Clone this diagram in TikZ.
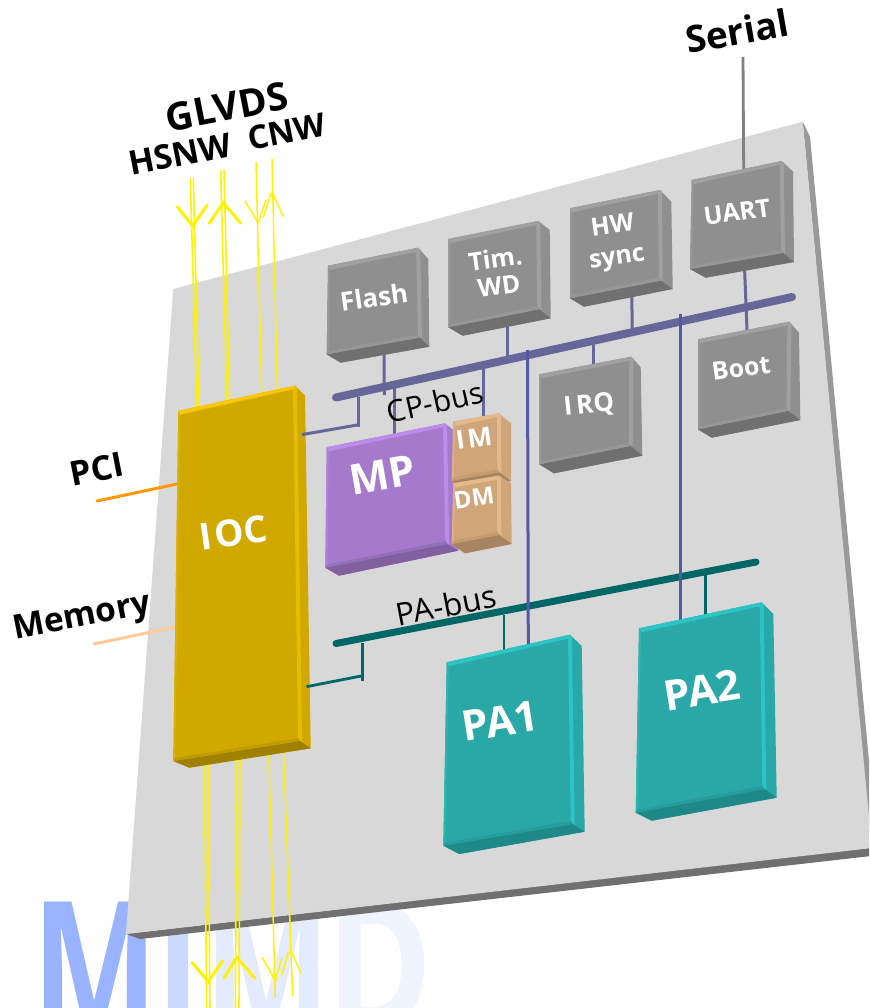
\documentclass[tikz,border=0pt]{standalone}
\usepackage{fontspec}
\setmainfont{Open Sans}[BoldFont={Open Sans Bold}]
\usetikzlibrary{calc}
\definecolor{gfa}{HTML}{8F8F8F}\definecolor{gli}{HTML}{A0A0A0}\definecolor{gbo}{HTML}{979797}\definecolor{gda}{HTML}{707070}
\definecolor{ofa}{HTML}{D0A800}\definecolor{oli}{HTML}{E8BC00}\definecolor{obo}{HTML}{C09C00}\definecolor{oda}{HTML}{A08000}
\definecolor{pfa}{HTML}{A57ACC}\definecolor{pli}{HTML}{BB8CE8}\definecolor{pbo}{HTML}{9470B8}\definecolor{pda}{HTML}{825F9E}
\definecolor{tfa}{HTML}{CFA67A}\definecolor{tli}{HTML}{E6B98C}\definecolor{tbo}{HTML}{C49C70}\definecolor{tda}{HTML}{A68560}
\definecolor{cfa}{HTML}{2AA8A8}\definecolor{cli}{HTML}{2CC4C4}\definecolor{cbo}{HTML}{279C9C}\definecolor{cda}{HTML}{1F8888}
\definecolor{cpbus}{HTML}{666699}\definecolor{pabus}{HTML}{006666}\definecolor{plate}{HTML}{D8D8D8}
\newcommand{\fsz}[1]{\fontsize{#1}{#1}\selectfont}
% name, colour family, tl, tr, side-top, side-bottom, br, bottom-front, bl
\newcommand{\block}[9]{%
 \coordinate (#1-tl) at #3; \coordinate (#1-tr) at #4; \coordinate (#1-st) at #5; \coordinate (#1-sb) at #6;
 \coordinate (#1-br) at #7; \coordinate (#1-bf) at #8; \coordinate (#1-bl) at #9;
 \fill[#2fa] (#1-tl)--(#1-tr)--(#1-st)--(#1-sb)--(#1-bf)--(#1-bl)--cycle;
 \fill[#2da] (#1-bl)--(#1-br)--(#1-sb)--(#1-bf)--cycle;
 \fill[#2li] (#1-tl)--(#1-tr)--($(#1-tr)+(-2,4)$)--($(#1-tl)+(2,4)$)--cycle;
 \fill[#2li] (#1-tr)--($(#1-tr)+(2,2)$)--($(#1-br)+(2,1)$)--($(#1-br)+(-2,-3)$)--($(#1-tr)+(-2,4)$)--cycle;
 \fill[#2li!50!#2fa] (#1-tl)--($(#1-tl)+(2,4)$)--($(#1-bl)+(2,-3)$)--(#1-bl)--cycle;
 \fill[#2bo] (#1-bl)--($(#1-bl)+(2,-3)$)--($(#1-br)+(-2,-3)$)--(#1-br)--cycle;
}
\tikzset{
 bus/.style={line width=#1,line cap=round},
 cp/.style={draw=cpbus,line width=3pt},
 pa/.style={draw=pabus,line width=2.8pt},
 ydbl/.style={draw=yellow,line width=1.6pt},
 yhead/.style={draw=yellow,line width=3pt,line cap=round},
 ythin/.style={draw=yellow,line width=1.5pt},
 lab/.style={inner sep=0pt,text=black},
 wlab/.style={inner sep=0pt,text=white,align=center},
 buslab/.style={inner sep=0pt,text=black},
 bigl/.style={inner sep=0pt,anchor=base west,font=\bfseries\fsz{180},xscale=.74},
}
\begin{document}
\begin{tikzpicture}[x=1pt,y=-1pt]
\path[use as bounding box] (0,0) rectangle (869,1008);
\clip (0,0) rectangle (869,1008);
\fill[white] (0,0) rectangle (869,1008);
% background lettering
\node[bigl,text={rgb,255:red,153;green,179;blue,255}] (mM1) at (32,1030) {M};
\node[bigl,text={rgb,255:red,204;green,217;blue,255}] (mI) at (156,1030) {I};
\node[bigl,text={rgb,255:red,229;green,235;blue,255}] (mM2) at (204,1030) {M};
\node[bigl,xscale=1.08,text={rgb,255:red,240;green,244;blue,255}] (mD) at (326,1030) {D};
% plate
\fill[gda] (126,934)--(140,939)--(880,855)--(880,846)--cycle;
\fill[gray!80] (802.7,121.7)--(810,136.7)--(878,856)--(872,856)--cycle;
\fill[plate] (173.3,289)--(802.7,121.7)--(872,848)--(126,934)--cycle;
% anchors of connectors
\coordinate (serialEnd) at (743,57);
\coordinate (pciEnd) at (97,501);
\coordinate (pciIoc) at (177,484);
\coordinate (memEnd) at (94,644);
\coordinate (memIoc) at (175,627);
\coordinate (cpL) at (336,397.5); \coordinate (cpR) at (792,297);
\coordinate (paL) at (336,643.5); \coordinate (paR) at (756,562);
\coordinate (pa2top) at (680,314); \coordinate (pa1top) at (527.5,350);
% thin connectors behind buses
\draw[cp] (744.3,262)--(747,330);
\draw[cp] (631.7,290)--(632.3,332);
\draw[cp] (593.3,345)--(593.3,365);
\draw[cp] (507.3,320)--(507.3,360);
\draw[cp] (384,350)--(384.3,395);
\draw[cp] (394,382)--(394,436);
\draw[cp] (483.3,368)--(483.3,420);
\draw[pa] (504,615)--(504,652);
\draw[pa] (705.3,575)--(705.3,618);
\draw[draw=gray,line width=2.8pt] (serialEnd)--(743.7,170);
% buses
\draw[draw=cpbus,bus=8pt] (cpL)--(cpR);
\draw[draw=pabus,bus=7pt] (paL)--(paR);
\draw[cp,draw=cpbus!85!blue] (pa2top)--(680,622);
\draw[cp,draw=cpbus!85!blue] (pa1top)--(528.3,646);
% IOC side lines
\draw[draw={rgb,255:red,255;green,153;blue,0},line width=3pt,line cap=round] (pciEnd)--(pciIoc);
\draw[draw={rgb,255:red,255;green,204;blue,153},line width=3pt,line cap=round] (memEnd)--(memIoc);
% yellow lines
\draw[ydbl] (190.3,178)--(196.7,408);
\draw[ydbl] (193.3,178)--(199.3,408);
\draw[ydbl] (220.7,170)--(226.7,402);
\draw[ydbl] (224,170)--(229.7,402);
\draw[ythin] (256,162)--(261.7,394);
\draw[ythin] (272,159)--(277.3,390);
\draw[yhead] (177.3,206.7)--(192.7,226)--(207.3,205);
\draw[yhead] (209.3,223.3)--(223.3,202.7)--(240.7,223.3);
\draw[ythin] (245,200.7)--(258,222.7)--(266,200);
\draw[ythin] (263,218)--(270.7,194)--(273,194)--(283.3,216.7);
\draw[ydbl] (204.3,760)--(206.7,1010);
\draw[ydbl] (208,760)--(210,1010);
\draw[ydbl] (236.7,752)--(235.3,1010);
\draw[ydbl] (240,752)--(239,1010);
\draw[ythin] (268.7,750)--(275.3,998.3);
\draw[ythin] (283.3,745)--(292.7,996);
\draw[yhead] (192,962.3)--(208.3,981.7)--(222.7,960.7);
\draw[yhead] (224,978.3)--(236.7,957.3)--(255,978.3);
\draw[ythin] (262.3,957.3)--(275.3,980.7)--(282,957.7);
\draw[ythin] (282,975)--(288.3,952.3)--(291.7,952.3)--(301,973.3);
% blocks
\block{flash}{g}{(328,265.7)}{(418.3,247.7)}{(428.3,259.3)}{(429.3,346.7)}{(420,337.7)}{(340.7,362.7)}{(326.7,354.3)}
\block{tim}{g}{(448.3,239)}{(538.3,221)}{(549.7,230)}{(550.7,318.3)}{(539.3,309.3)}{(462.7,335.7)}{(448.3,327.3)}
\block{hw}{g}{(570,208.3)}{(660,190)}{(671.3,201.7)}{(672.7,289)}{(660.7,280.7)}{(584,306.7)}{(570,298.3)}
\block{uart}{g}{(691.7,180)}{(781.7,161)}{(793,171.7)}{(794,262)}{(783,253)}{(705.7,277.7)}{(690,269)}
\block{irq}{g}{(539.3,374.3)}{(631.3,356.7)}{(640.7,367.3)}{(642.3,455.7)}{(630.7,446)}{(554,473.3)}{(539.3,464.3)}
\block{boot}{g}{(698,339.3)}{(789.3,321.7)}{(799,332.7)}{(800.3,420)}{(788.3,411)}{(711.7,437.7)}{(698,429.3)}
\block{mp}{p}{(326.7,447.3)}{(445,423.3)}{(453.3,430)}{(458.3,550.7)}{(447.3,544)}{(339,575.7)}{(325.3,567.7)}
\block{im}{t}{(453.3,421.7)}{(499,413.3)}{(511,423.3)}{(511,481)}{(499.3,472.3)}{(463,490)}{(451.7,480.7)}
\block{dm}{t}{(453.3,483.3)}{(499,475.7)}{(511,483.3)}{(511.7,544)}{(499.3,535)}{(465,553.3)}{(451.7,544)}
\block{ioc}{o}{(178.3,411)}{(295,385.7)}{(305,395.7)}{(310.7,748.3)}{(300,741)}{(189.3,767.7)}{(173.3,761)}
\fill[yellow!60!orange] (178.3,411)--(295,385.7)--(293,389)--(180,414)--cycle;
\block{pa1}{c}{(446.7,662.3)}{(570,634.7)}{(581.7,646)}{(584.7,831.7)}{(572.7,824)}{(459.3,854)}{(443.3,845.7)}
\block{pa2}{c}{(639,628.3)}{(761.7,602.3)}{(773.3,614)}{(776.7,797.7)}{(764.3,789)}{(651.7,820.7)}{(635.7,812.7)}
% stubs from the IOC to the buses
\draw[cp] (302,434.6)--(358.3,424.8);
\draw[cp] (358.3,427)--(358.3,397);
\draw[pa] (306.5,686.7)--(362.7,675.7);
\draw[pa] (362.7,680.5)--(362.7,643);
% labels
\node[lab,font=\bfseries\fsz{37},rotate=10] (serial) at (737,31) {Serial};
\node[lab,font=\bfseries\fsz{38.5},rotate=11] (glvds) at (227,107) {GLVDS};
\node[lab,font=\bfseries\fsz{33.5},rotate=11] (hsnw) at (180,154) {HSNW};
\node[lab,font=\bfseries\fsz{32.5},rotate=11] (cnw) at (287,132) {CNW};
\node[lab,font=\bfseries\fsz{34},rotate=11] (pci) at (97,469) {PCI};
\node[lab,font=\bfseries\fsz{33.5},rotate=11] (memory) at (82,618) {Memory};
\node[buslab,font=\fsz{30},rotate=13] (cpbus) at (435,402) {CP-bus};
\node[buslab,font=\fsz{31.5},rotate=11] (pabusl) at (446,605) {PA-bus};
\node[wlab,font=\bfseries\fsz{26},rotate=8] at (374,297) (flashT) {Flash};
\node[wlab,font=\bfseries\fsz{25},rotate=8] at (497,272) (timT) {Tim.\\[2pt]WD};
\node[wlab,font=\bfseries\fsz{25},rotate=8] at (615,243) (hwT) {HW\\[6pt]sync};
\node[wlab,font=\bfseries\fsz{25},rotate=8] at (737,212) (uartT) {UART};
\node[wlab,font=\bfseries\fsz{26},rotate=6] at (589,406) (irqT) {I\kern4pt RQ};
\node[wlab,font=\bfseries\fsz{25},rotate=8] at (741,368) (bootT) {Boot};
\node[wlab,font=\bfseries\fsz{42},rotate=10] at (382,475) (mpT) {MP};
\node[wlab,font=\bfseries\fsz{26},rotate=8] at (474,438) (imT) {I\kern3pt M};
\node[wlab,font=\bfseries\fsz{24},rotate=8] at (474,498) (dmT) {DM};
\node[wlab,font=\bfseries\fsz{37},rotate=8] at (233,533) (iocT) {I\kern3pt OC};
\node[wlab,font=\bfseries\fsz{42},rotate=9] at (500,721) (pa1T) {PA1};
\node[wlab,font=\bfseries\fsz{42},rotate=9] at (702,690) (pa2T) {PA2};
\end{tikzpicture}
\end{document}
